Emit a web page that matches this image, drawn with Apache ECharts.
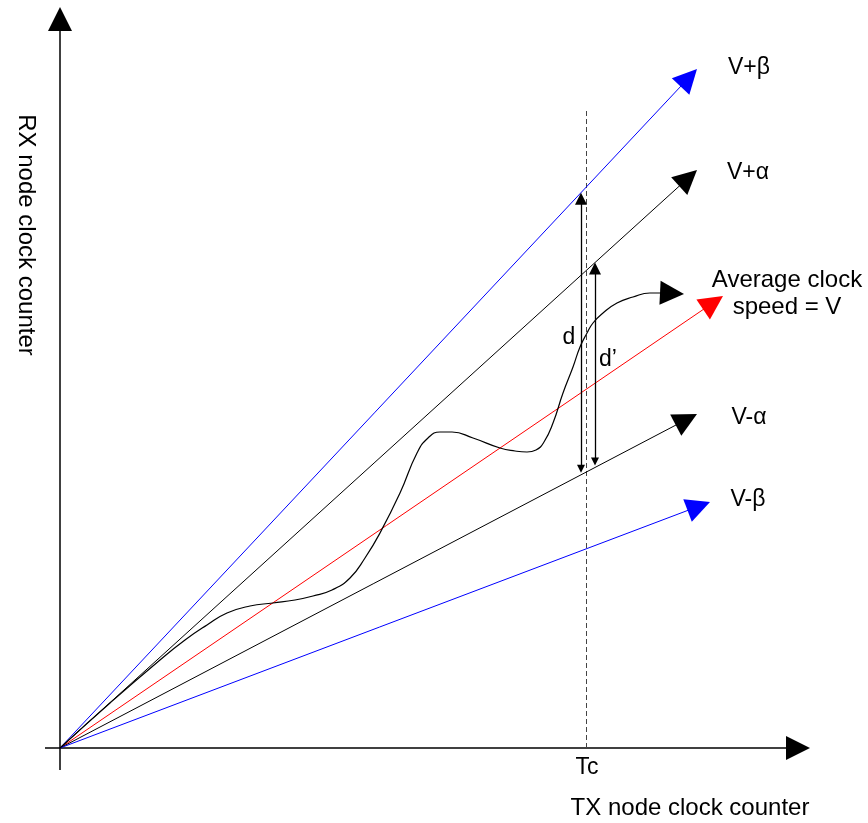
<!DOCTYPE html>
<html><head><meta charset="utf-8">
<script src="https://cdn.jsdelivr.net/npm/echarts@6/dist/echarts.min.js"></script>
<style>html,body{margin:0;padding:0;background:#fff}#c{width:868px;height:823px}</style>
</head><body><div id="c"></div>
<script>
// ---- data (value units, origin of the diagram at 0,0) ----
const xAxisArrow = [[-15, 0], [750, 0]];
const yAxisArrow = [[0, -22], [0, 741]];
const rayNames = ['V+β', 'V+α', 'Average clock\nspeed = V', 'V-α', 'V-β'];
const rayTips = [[637, 679], [637, 578], [663, 452], [637, 334], [650, 246]];
const rayLabelAt = [[689, 680], [688, 575], [727, 454], [689, 330], [688, 248]];
const tcX = 526;
const tcTop = 640;
const dX = 521;   // d spans V-α .. V+β
const dPrimeX = 535; // d' spans V-α .. V+α
const curveX = [0, 50, 100, 125, 147, 167, 190, 213, 235, 253, 272, 290, 305, 320, 340, 357, 368, 380, 392, 413, 440, 455, 467, 476, 484, 493, 503, 513, 520, 527, 533, 543, 557, 573, 590, 603];
const curveY = [0, 45, 88, 108, 123, 135, 142, 145, 148, 152, 158, 170, 190, 215, 255, 295, 310, 316, 316, 310, 300, 297, 296, 298, 306, 325, 355, 381, 401, 415, 425, 435, 445, 451, 455, 455];
const curveTip = [624, 454];
const axisTitles = ['TX node clock counter', 'RX node clock counter'];
const axisTitleAt = [[630, -60], [-34, 513]];
const tickLabel = 'Tc';
const tickLabelAt = [527, -20];
const dLabels = ['d', 'd\u2019'];
const dLabelAt = [[509, 410], [548, 388]];

// ---- helpers ----
function shorten(p0, p1, len) {
  const dx = p1[0] - p0[0], dy = p1[1] - p0[1];
  const L = Math.sqrt(dx * dx + dy * dy);
  return [p1[0] - dx / L * len, p1[1] - dy / L * len];
}
function slopeY(tip, x) { return x * tip[1] / tip[0]; }

const rayColors = ['#0000ff', '#000000', '#ff0000', '#000000', '#0000ff'];
const HEAD = [16, 24];

const rayData = rayTips.map((t, i) => ({
  coords: [[0, 0], shorten([0, 0], t, HEAD[1] / 2)],
  lineStyle: { color: rayColors[i] }
}));

const axisData = [
  { coords: [xAxisArrow[0], shorten(xAxisArrow[0], xAxisArrow[1], HEAD[1] / 2)] },
  { coords: [yAxisArrow[0], shorten(yAxisArrow[0], yAxisArrow[1], HEAD[1] / 2)] }
];

const dBottom = [dX, slopeY(rayTips[3], dX)];
const dTop = [dX, slopeY(rayTips[0], dX)];
const dpBottom = [dPrimeX, slopeY(rayTips[3], dPrimeX)];
const dpTop = [dPrimeX, slopeY(rayTips[1], dPrimeX)];
const SH = [8, 12];
const dData = [
  { coords: [shorten(dTop, dBottom, SH[1] / 2), shorten(dBottom, dTop, SH[1] / 2)] },
  { coords: [shorten(dpTop, dpBottom, SH[1] / 2), shorten(dpBottom, dpTop, SH[1] / 2)] }
];

const curveData = curveX.map((x, i) => [x, curveY[i]]);
const curveLast = curveData[curveData.length - 1];

const FONT = 'Liberation Sans, Arial, sans-serif';
const textItems = [];
rayNames.forEach((n, i) => textItems.push({ value: rayLabelAt[i], name: n, label: { fontSize: i === 2 ? 24 : 23, lineHeight: 27 } }));
axisTitles.forEach((n, i) => textItems.push({ value: axisTitleAt[i], name: n, label: { fontSize: 24, rotate: i === 1 ? -90 : 0 } }));
textItems.push({ value: tickLabelAt, name: tickLabel, label: { fontSize: 23 } });
dLabels.forEach((n, i) => textItems.push({ value: dLabelAt[i], name: n, label: { fontSize: 23 } }));

const chart = echarts.init(document.getElementById('c'), null, { renderer: 'canvas' });
chart.setOption({
  animation: false,
  backgroundColor: '#fff',
  grid: { left: 0, right: 0, top: 0, bottom: 0 },
  xAxis: { type: 'value', min: -60, max: 808, show: false },
  yAxis: { type: 'value', min: -75, max: 748, show: false },
  series: [
    {
      type: 'lines', coordinateSystem: 'cartesian2d', z: 2,
      symbol: ['none', 'triangle'], symbolSize: HEAD,
      lineStyle: { color: '#000', width: 1.5, opacity: 1 },
      data: axisData
    },
    {
      type: 'lines', coordinateSystem: 'cartesian2d', z: 2,
      symbol: ['none', 'none'],
      lineStyle: { color: '#444', width: 1, type: [5, 3], opacity: 1 },
      data: [{ coords: [[tcX, 0], [tcX, tcTop]] }]
    },
    {
      type: 'lines', coordinateSystem: 'cartesian2d', z: 3,
      symbol: ['none', 'triangle'], symbolSize: HEAD,
      lineStyle: { width: 1, opacity: 1 },
      data: rayData
    },
    {
      type: 'line', z: 3, data: curveData, smooth: 0.5, showSymbol: false,
      lineStyle: { color: '#000', width: 1.2 }
    },
    {
      type: 'lines', coordinateSystem: 'cartesian2d', z: 3,
      symbol: ['none', 'triangle'], symbolSize: [15, 24],
      lineStyle: { color: '#000', width: 1.2, opacity: 1 },
      data: [{ coords: [curveLast, shorten(curveLast, curveTip, 12)] }]
    },
    {
      type: 'lines', coordinateSystem: 'cartesian2d', z: 4,
      symbol: ['triangle', 'triangle'], symbolSize: SH,
      lineStyle: { color: '#000', width: 1.3, opacity: 1 },
      data: dData
    },
    {
      type: 'scatter', z: 10, symbolSize: 0, silent: true,
      itemStyle: { opacity: 1 },
      label: { show: true, position: 'inside', formatter: '{b}', color: '#000', opacity: 1, textBorderWidth: 0, textBorderColor: 'transparent', fontFamily: FONT, align: 'center', verticalAlign: 'middle' },
      data: textItems
    }
  ]
});
</script></body></html>
